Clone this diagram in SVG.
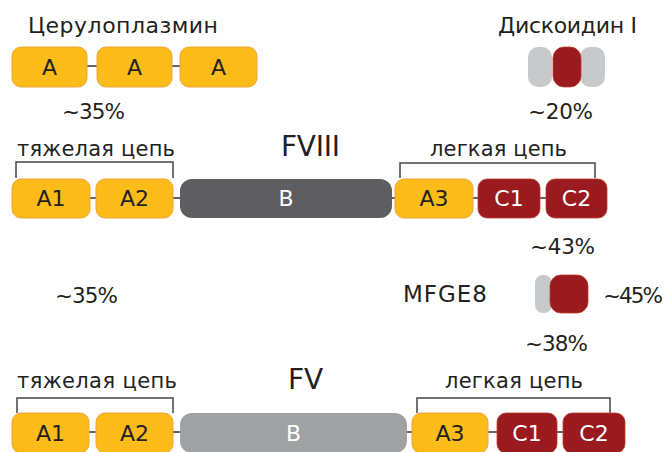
<svg xmlns="http://www.w3.org/2000/svg" width="667" height="452" viewBox="0 0 667 452">
<style>
text{font-family:"DejaVu Sans","Liberation Sans",sans-serif;fill:#231f20}
.t{font-size:22px}
.lbl{font-size:21px}
.pct{font-size:21.5px}
.big{font-size:28px}
.dom{font-size:22px;text-anchor:middle}
.w{fill:#ffffff}
.y{fill:#fbbb19;stroke:#f2a43a;stroke-width:1}
.r{fill:#9a1b1f;stroke:#c0392b;stroke-width:0.8}
.g{fill:#c8c9cb}
.dk{fill:#5e5e60}
.lg{fill:#a0a1a3}
.br{fill:none;stroke:#444;stroke-width:1.5}
.ln{stroke:#333;stroke-width:1.5}
</style>
<rect width="667" height="452" fill="#ffffff"/>
<g id="connectors">
<line class="ln" x1="87" y1="66" x2="97" y2="66"/>
<line class="ln" x1="172" y1="66" x2="180" y2="66"/>
<line class="ln" x1="90" y1="198" x2="96" y2="198"/>
<line class="ln" x1="173" y1="198" x2="180" y2="198"/>
<line class="ln" x1="392" y1="198" x2="395" y2="198"/>
<line class="ln" x1="473" y1="198" x2="478" y2="198"/>
<line class="ln" x1="540" y1="198" x2="546" y2="198"/>
<line class="ln" x1="89" y1="432" x2="96" y2="432"/>
<line class="ln" x1="173" y1="432" x2="180" y2="432"/>
<line class="ln" x1="407" y1="432" x2="412" y2="432"/>
<line class="ln" x1="488" y1="432" x2="497" y2="432"/>
<line class="ln" x1="557" y1="432" x2="563" y2="432"/>
<path class="br" d="M16 178 V162 H173 V178"/>
<path class="br" d="M400 178 V163 H595 V178"/>
<path class="br" d="M17 413 V398 H173 V413"/>
<path class="br" d="M417 413 V398 H610 V413"/>
</g>
<g id="ceruloplasmin">
<text class="t" x="28" y="33" textLength="190">Церулоплазмин</text>
<rect class="y" x="12" y="47" width="75" height="40" rx="9"/>
<text class="dom" x="49.5" y="75">A</text>
<rect class="y" x="97" y="47" width="75" height="40" rx="9"/>
<text class="dom" x="134.5" y="75">A</text>
<rect class="y" x="180" y="47" width="77" height="40" rx="9"/>
<text class="dom" x="218.5" y="75">A</text>
<text class="pct" x="62" y="119" textLength="63">~35%</text>
</g>
<g id="discoidin">
<text class="t" x="498" y="33" textLength="139">Дискоидин I</text>
<rect class="g" x="528" y="47" width="24" height="40" rx="10"/>
<rect class="g" x="580" y="47" width="25" height="40" rx="10"/>
<rect class="r" x="553" y="47" width="28" height="40" rx="11"/>
<text class="pct" x="528" y="119" textLength="65">~20%</text>
</g>
<g id="fviii">
<text class="lbl" x="17" y="156" textLength="158">тяжелая цепь</text>
<text class="big" x="281" y="156" textLength="59">FVIII</text>
<text class="lbl" x="430" y="156" textLength="137">легкая цепь</text>
<rect class="y" x="12" y="179" width="78" height="39" rx="9"/>
<text class="dom" x="51" y="206">A1</text>
<rect class="y" x="96" y="179" width="77" height="39" rx="9"/>
<text class="dom" x="134.5" y="206">A2</text>
<rect class="dk" x="180" y="179" width="212" height="39" rx="12"/>
<text class="dom w" x="286" y="206">B</text>
<rect class="y" x="395" y="179" width="78" height="39" rx="9"/>
<text class="dom" x="434" y="206">A3</text>
<rect class="r" x="478" y="179" width="62" height="39" rx="9"/>
<text class="dom w" x="509" y="206">C1</text>
<rect class="r" x="546" y="179" width="61" height="39" rx="9"/>
<text class="dom w" x="576.5" y="206">C2</text>
<text class="pct" x="530" y="254" textLength="65">~43%</text>
</g>
<g id="mfge8">
<text class="pct" x="55" y="303" textLength="63">~35%</text>
<text class="lbl" x="403" y="302" textLength="84" style="font-size:23px">MFGE8</text>
<rect class="g" x="535" y="275" width="17" height="38" rx="8"/>
<rect class="r" x="550" y="275" width="38" height="38" rx="11"/>
<text class="pct" x="603" y="303" textLength="60">~45%</text>
<text class="pct" x="525" y="351" textLength="63">~38%</text>
</g>
<g id="fv">
<text class="lbl" x="17" y="388" textLength="160">тяжелая цепь</text>
<text class="big" x="288" y="389">FV</text>
<text class="lbl" x="445" y="388" textLength="138">легкая цепь</text>
<rect class="y" x="12" y="413" width="77" height="40" rx="9"/>
<text class="dom" x="50.5" y="441">A1</text>
<rect class="y" x="96" y="413" width="77" height="40" rx="9"/>
<text class="dom" x="134.5" y="441">A2</text>
<rect class="lg" x="180" y="413" width="227" height="40" rx="12"/>
<text class="dom w" x="293.5" y="441">B</text>
<rect class="y" x="412" y="413" width="76" height="40" rx="9"/>
<text class="dom" x="450" y="441">A3</text>
<rect class="r" x="497" y="413" width="60" height="40" rx="9"/>
<text class="dom w" x="527" y="441">C1</text>
<rect class="r" x="563" y="413" width="62" height="40" rx="9"/>
<text class="dom w" x="594" y="441">C2</text>
</g>
</svg>
